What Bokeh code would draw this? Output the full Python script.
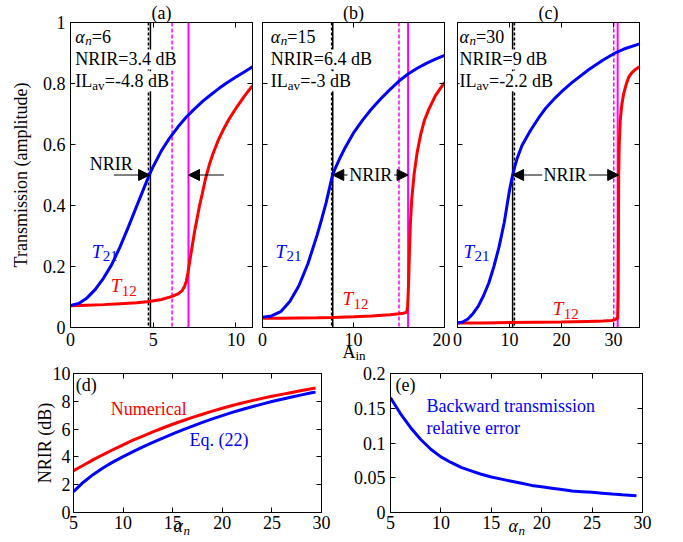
from bokeh.plotting import figure
from bokeh.models import (Range1d, LinearAxis, FixedTicker, CustomJSTickFormatter,
                          Label, Title, Span, Arrow, NormalHead)
from bokeh.layouts import row, column
from bokeh.embed import file_html
from bokeh.resources import INLINE

FONT = "Liberation Serif"
BLUE = "#0000ff"
RED = "#ff0000"
MAG = "#ff00ff"

# ---------------- data: panel (a), alpha_n = 6 ----------------
a_t21_x = [0, 0.5, 1, 1.5, 2, 2.5, 3, 3.5, 4, 4.5, 4.76, 5, 5.5, 6, 6.5, 7, 7.5, 8, 8.5, 9, 9.5, 10, 10.5, 11]
a_t21_y = [0.072, 0.079, 0.097, 0.125, 0.162, 0.207, 0.265, 0.33, 0.398, 0.465, 0.50, 0.528, 0.58, 0.622, 0.658,
           0.69, 0.717, 0.742, 0.764, 0.785, 0.804, 0.821, 0.838, 0.855]
a_t12_x = [0, 1, 2, 3, 4, 4.76, 5.5, 6.14, 6.5, 6.75, 6.9, 7.0, 7.1, 7.2, 7.36, 7.5, 7.66, 7.8, 7.97, 8.17, 8.4,
           8.6, 8.9, 9.2, 9.6, 10.04, 10.5, 11]
a_t12_y = [0.071, 0.073, 0.075, 0.078, 0.081, 0.085, 0.092, 0.102, 0.11, 0.121, 0.135, 0.152, 0.18, 0.215,
           0.268, 0.315, 0.36, 0.4, 0.44, 0.49, 0.535, 0.568, 0.61, 0.645, 0.685, 0.722, 0.758, 0.793]

# ---------------- data: panel (b), alpha_n = 15 ----------------
b_t21_x = [0, 1, 2, 3, 4, 5, 6, 6.5, 7, 7.5, 7.7, 8, 8.5, 9, 10, 11, 12, 13, 14, 15, 16, 17, 18, 19, 20]
b_t21_y = [0.034, 0.038, 0.052, 0.085, 0.137, 0.21, 0.303, 0.355, 0.41, 0.475, 0.50, 0.522, 0.555, 0.585, 0.638,
           0.68, 0.717, 0.75, 0.78, 0.808, 0.831, 0.85, 0.866, 0.88, 0.892]
b_t12_x = [0, 2, 4, 6, 7.7, 10, 12, 14, 15, 15.5, 15.85, 15.95, 16.05, 16.15, 16.25, 16.4, 16.67, 17.0, 17.4,
           17.8, 18.3, 19, 20]
b_t12_y = [0.03, 0.03, 0.031, 0.032, 0.033, 0.035, 0.038, 0.042, 0.045, 0.047, 0.05, 0.07, 0.14, 0.25, 0.34,
           0.42, 0.505, 0.575, 0.635, 0.68, 0.717, 0.76, 0.804]

# ---------------- data: panel (c), alpha_n = 30 ----------------
c_t21_x = [0, 1, 2, 3, 4, 5, 6, 7, 8, 9, 10, 10.6, 11, 11.5, 12.4, 14, 15.6, 17, 18.8, 20, 22, 25.2, 28, 30.3,
           32, 35]
c_t21_y = [0.015, 0.018, 0.028, 0.046, 0.07, 0.104, 0.145, 0.2, 0.265, 0.345, 0.45, 0.50, 0.527, 0.556, 0.597,
           0.645, 0.687, 0.72, 0.753, 0.773, 0.803, 0.845, 0.877, 0.90, 0.913, 0.93]
c_t12_x = [0, 5, 10, 15, 20, 25, 28, 29.7, 30.3, 30.6, 30.8, 30.9, 30.95, 31.0, 31.1, 31.3, 31.6, 31.95, 32.4,
           32.9, 33.5, 34.2, 35]
c_t12_y = [0.015, 0.015, 0.016, 0.017, 0.018, 0.02, 0.021, 0.023, 0.026, 0.029, 0.03, 0.1, 0.3, 0.5, 0.6, 0.68,
           0.73, 0.766, 0.795, 0.82, 0.835, 0.846, 0.855]

# vertical marker lines (x positions) per panel
black_solid = [4.83, 7.72, 10.6]
black_dash = [4.71, 7.6, 10.95]
mag_dash = [6.14, 15.0, 30.05]
mag_solid = [7.13, 16.0, 30.8]

alpha_vals = ["6", "15", "30"]
nrir_vals = ["3.4", "6.4", "9"]
il_vals = ["-4.8", "-3", "-2.2"]

top_xranges = [(0, 11), (0, 20), (0, 35)]
top_xticks = [[0, 5, 10], [0, 10, 20], [0, 10, 20, 30]]
top_yticks = [0, 0.2, 0.4, 0.6, 0.8, 1]

# ---------------- data: panel (d) and (e) ----------------
alpha_n = [5, 6, 7, 8, 9, 10, 11, 12, 13, 14, 15, 16, 17, 18, 19, 20, 21, 22, 23, 24, 25, 26, 27, 28, 29, 29.4]
nrir_numerical = [3.0, 3.4, 3.8, 4.17, 4.53, 4.87, 5.2, 5.5, 5.8, 6.08, 6.35, 6.6, 6.84, 7.07, 7.29, 7.5, 7.7,
                  7.88, 8.05, 8.21, 8.36, 8.5, 8.64, 8.77, 8.9, 8.95]
nrir_eq22 = [1.5, 2.18, 2.74, 3.22, 3.64, 4.02, 4.38, 4.72, 5.04, 5.35, 5.65, 5.94, 6.22, 6.48, 6.73, 6.97, 7.2,
             7.41, 7.61, 7.8, 7.98, 8.15, 8.31, 8.46, 8.61, 8.66]
rel_error = [0.165, 0.142, 0.122, 0.105, 0.091, 0.080, 0.072, 0.065, 0.06, 0.055, 0.051, 0.048, 0.045, 0.042,
             0.039, 0.037, 0.035, 0.033, 0.031, 0.030, 0.029, 0.0278, 0.0266, 0.0255, 0.0245, 0.024]
bottom_xticks = [5, 10, 15, 20, 25, 30]
d_yticks = [0, 2, 4, 6, 8, 10]
e_yticks = [0, 0.05, 0.1, 0.15, 0.2]


def style_axis(ax, ticks, show, standoff=5):
    ax.ticker = FixedTicker(ticks=ticks)
    ax.major_tick_in = 5
    ax.major_tick_out = 0
    ax.minor_tick_line_color = None
    ax.axis_line_color = "black"
    ax.major_tick_line_color = "black"
    ax.major_label_text_font = FONT
    ax.major_label_text_color = "black"
    if show:
        ax.formatter = CustomJSTickFormatter(code="return String(tick)")
        ax.major_label_text_font_size = "18px"
        ax.major_label_standoff = standoff
    else:
        ax.formatter = CustomJSTickFormatter(code="return ''")
        ax.major_label_text_font_size = "0px"
        ax.major_label_standoff = 0


def make_fig(width, height, xr, yr, xticks, yticks, borders, show_y=True, xs=5, ys=5):
    bl, br, bt, bb = borders
    p = figure(width=width, height=height, x_range=Range1d(*xr), y_range=Range1d(*yr),
               output_backend="svg", toolbar_location=None,
               min_border_left=bl, min_border_right=br, min_border_top=bt, min_border_bottom=bb)
    p.grid.grid_line_color = None
    p.outline_line_color = "black"
    p.background_fill_color = "white"
    p.border_fill_color = "white"
    style_axis(p.xaxis[0], xticks, True, xs)
    style_axis(p.yaxis[0], yticks, show_y, ys)
    top = LinearAxis()
    style_axis(top, xticks, False)
    p.add_layout(top, "above")
    right = LinearAxis()
    style_axis(right, yticks, False)
    p.add_layout(right, "right")
    return p


def lab(p, x, y, text, size=18, color="black", style="normal", align="left", xo=0, yo=0, bg=None):
    kw = dict(x=x, y=y, text=text, text_font=FONT, text_font_size=f"{size}px", text_color=color,
              text_font_style=style, text_align=align, text_baseline="middle", x_offset=xo, y_offset=yo)
    if bg:
        kw["background_fill_color"] = bg
    p.add_layout(Label(**kw))


def below_text(p, text, offset, standoff, size=18, style="normal"):
    # text under the frame, as a Title in the lower side panel (a negative standoff keeps it compact)
    t = Title(text=text, align="left", offset=offset, standoff=standoff, vertical_align="top",
              text_font=FONT, text_font_size=f"{size}px", text_font_style=style, text_color="black")
    p.add_layout(t, "below")


def arrow(p, x0, x1, y):
    p.add_layout(Arrow(end=NormalHead(size=11, fill_color="black", line_color="black", line_width=1),
                       x_start=x0, y_start=y, x_end=x1, y_end=y, line_color="black", line_width=1))


# ---------------- top row ----------------
top_h = 363
top_borders = [(70, 5, 22, 36), (5, 6, 22, 36), (7, 44, 22, 36)]
top_widths = [257, 193, 233]
t21 = [(a_t21_x, a_t21_y), (b_t21_x, b_t21_y), (c_t21_x, c_t21_y)]
t12 = [(a_t12_x, a_t12_y), (b_t12_x, b_t12_y), (c_t12_x, c_t12_y)]
titles = ["(a)", "(b)", "(c)"]
text_x = [0.29, 0.91, 0.38]
t21_lab = [(1.28, 0.25), (1.43, 0.25), (1.15, 0.25)]
t12_lab = [(2.44, 0.137), (8.8, 0.095), (18.3, 0.062)]
Y1, Y2, Y3 = 0.954, 0.879, 0.807

tops = []
for i in range(3):
    p = make_fig(top_widths[i], top_h, top_xranges[i], (0, 1), top_xticks[i], top_yticks, top_borders[i],
                 show_y=(i == 0), xs=5, ys=5)
    p.title.text = titles[i]
    p.title.align = "center"
    p.title.text_font = FONT
    p.title.text_font_size = "18px"
    p.title.text_font_style = "normal"
    p.title.text_color = "black"
    p.title.standoff = 0
    for loc, dash, col, lw in [(black_dash[i], "3 2", "black", 1.5), (black_solid[i], "solid", "black", 1.5),
                               (mag_dash[i], "4 2", MAG, 1.5), (mag_solid[i], "solid", MAG, 2)]:
        p.add_layout(Span(location=loc, dimension="height", line_color=col, line_dash=dash, line_width=lw,
                          level="underlay"))
    p.line(t12[i][0], t12[i][1], line_color=RED, line_width=3)
    p.line(t21[i][0], t21[i][1], line_color=BLUE, line_width=3)
    x0 = text_x[i]
    lab(p, x0, Y1, "α", style="italic")
    lab(p, x0, Y1, "n", size=13, style="italic", xo=10, yo=-4)
    lab(p, x0, Y1, "=" + alpha_vals[i], xo=16.5)
    lab(p, x0, Y2, "NRIR=" + nrir_vals[i] + " dB", bg="white")
    lab(p, x0, Y3, "IL", bg="white")
    lab(p, x0, Y3, "av", size=13, xo=17, yo=-4, bg="white")
    lab(p, x0, Y3, "=" + il_vals[i] + " dB", xo=29.5, bg="white")
    tx, ty = t21_lab[i]
    lab(p, tx, ty, "T", size=19, color=BLUE, style="italic")
    lab(p, tx, ty, "21", size=15, color=BLUE, xo=11, yo=-5)
    tx, ty = t12_lab[i]
    lab(p, tx, ty, "T", size=19, color=RED, style="italic")
    lab(p, tx, ty, "12", size=15, color=RED, xo=11, yo=-5)
    tops.append(p)

pa, pb, pc = tops
pa.yaxis[0].axis_label = "Transmission (amplitude)"
pa.yaxis[0].axis_label_text_font = FONT
pa.yaxis[0].axis_label_text_font_size = "18px"
pa.yaxis[0].axis_label_text_font_style = "normal"
pa.yaxis[0].axis_label_text_color = "black"
pa.yaxis[0].axis_label_standoff = 9

# NRIR arrows
lab(pa, 2.47, 0.536, "NRIR", align="center")
arrow(pa, 2.62, black_solid[0] - 0.05, 0.5)
arrow(pa, 9.27, mag_solid[0], 0.5)
lab(pb, 11.9, 0.5, "NRIR", align="center")
arrow(pb, 9.34, black_solid[1], 0.5)
arrow(pb, 14.47, mag_solid[1], 0.5)
lab(pc, 20.67, 0.5, "NRIR", align="center")
arrow(pc, 16.3, black_solid[2], 0.5)
arrow(pc, 25.25, 31.0, 0.5)

# x label A_in under (b)
below_text(pb, "A", 80, -13)
below_text(pb, "in", 93, -19, size=13)

# ---------------- bottom row ----------------
pd = make_fig(340, 179, (5, 30), (0, 10), bottom_xticks, d_yticks, (73, 19, 10, 30), xs=3, ys=3)
pd.line(alpha_n, nrir_numerical, line_color=RED, line_width=3)
pd.line(alpha_n, nrir_eq22, line_color=BLUE, line_width=3)
pd.yaxis[0].axis_label = "NRIR (dB)"
pd.yaxis[0].axis_label_text_font = FONT
pd.yaxis[0].axis_label_text_font_size = "18px"
pd.yaxis[0].axis_label_text_font_style = "normal"
pd.yaxis[0].axis_label_text_color = "black"
pd.yaxis[0].axis_label_standoff = -5
lab(pd, 5.23, 9.15, "(d)")
lab(pd, 8.76, 7.42, "Numerical", color=RED)
lab(pd, 16.7, 5.18, "Eq. (22)", color=BLUE)
below_text(pd, "n", 110, -17, size=13, style="italic")
below_text(pd, "α", 100, -31, style="italic")

pe = make_fig(343, 179, (5, 30), (0, 0.2), bottom_xticks, e_yticks, (50, 41, 10, 30), xs=3, ys=5)
pe.line(alpha_n, rel_error, line_color=BLUE, line_width=3)
lab(pe, 5.5, 0.184, "(e)")
lab(pe, 8.57, 0.1528, "Backward transmission", color=BLUE)
lab(pe, 8.57, 0.1223, "relative error", color=BLUE)
below_text(pe, "n", 128, -17, size=13, style="italic")
below_text(pe, "α", 118, -31, style="italic")

layout = column(row(pa, pb, pc), row(pd, pe))
open("out.html", "w").write(file_html(layout, INLINE))
